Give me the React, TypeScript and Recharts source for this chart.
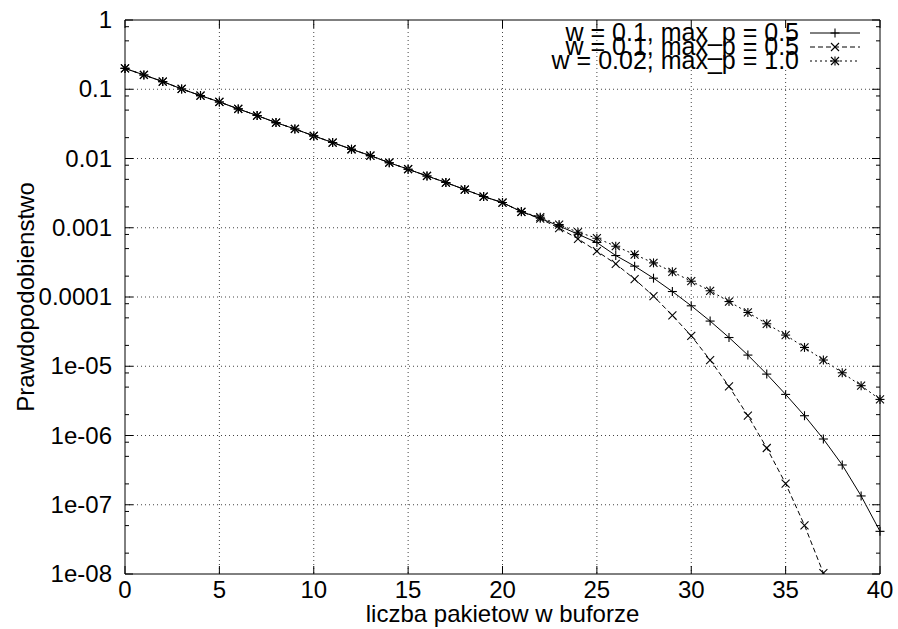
import React from "react";
import { LineChart, Line, XAxis, YAxis, Legend, ReferenceArea } from "recharts";

// liczba pakietow w buforze
const packets = [
  0, 1, 2, 3, 4, 5, 6, 7, 8, 9, 10, 11, 12, 13, 14, 15, 16, 17, 18, 19, 20,
  21, 22, 23, 24, 25, 26, 27, 28, 29, 30, 31, 32, 33, 34, 35, 36, 37, 38, 39, 40,
];

// first 21 points are shared by all three curves
const common = [
  0.2, 0.161, 0.129, 0.101, 0.081, 0.0656, 0.052, 0.0417, 0.033, 0.0267, 0.0212,
  0.017, 0.0136, 0.011, 0.0087, 0.007, 0.0056, 0.0045, 0.00356, 0.00282, 0.00231,
];

const seriesA = [
  ...common,
  0.00171, 0.00137, 0.00106, 0.000807, 0.000611, 0.000397, 0.000279, 0.000187,
  0.00012, 7.46e-5, 4.49e-5, 2.6e-5, 1.45e-5, 7.7e-6, 3.92e-6, 1.93e-6, 8.9e-7,
  3.75e-7, 1.34e-7, 4.13e-8,
];

const seriesB = [
  ...common,
  0.0017, 0.00135, 0.000987, 0.000692, 0.000459, 0.000301, 0.000181, 0.000103,
  5.42e-5, 2.75e-5, 1.23e-5, 5.12e-6, 1.93e-6, 6.6e-7, 2.02e-7, 5.05e-8, 1.03e-8,
  null, null, null,
];

const seriesC = [
  ...common,
  0.0017, 0.00142, 0.00111, 0.000863, 0.000706, 0.000541, 0.00041, 0.000311,
  0.000231, 0.000169, 0.000123, 8.6e-5, 5.98e-5, 4.1e-5, 2.82e-5, 1.87e-5,
  1.23e-5, 8.05e-6, 5.24e-6, 3.32e-6,
];

const seriesNames = [
  "w = 0.1, max_p = 0.5",
  "w = 0.1, max_p = 0.5",
  "w = 0.02, max_p = 1.0",
];

const xTicks = [0, 5, 10, 15, 20, 25, 30, 35, 40];
const yMajor = [1, 0.1, 0.01, 0.001, 0.0001, 1e-5, 1e-6, 1e-7, 1e-8];
const yLabels = ["1", "0.1", "0.01", "0.001", "0.0001", "1e-05", "1e-06", "1e-07", "1e-08"];
const minorFactors = [0.8, 0.5, 0.2];

const yMinor = yMajor.slice(0, -1).flatMap((m) => minorFactors.map((f) => m * f));
const yTicks = [...yMajor, ...yMinor];

const data = packets.map((n, i) => ({
  n,
  a: seriesA[i],
  b: seriesB[i],
  c: seriesC[i],
}));

const W = 898;
const H = 629;
const PLOT = { left: 125, right: 880, top: 20, bottom: 574 };
const FONT = "'Liberation Sans', Arial, Helvetica, sans-serif";
const FS = 24;
const GRID_DASH = "1 3";

type MarkerKind = "plus" | "cross" | "star";

function Marker({ cx, cy, kind }: { cx: number; cy: number; kind: MarkerKind }) {
  const p = 4.5;
  const c = 4;
  return (
    <g stroke="#000" strokeWidth={1.1} fill="none">
      {(kind === "plus" || kind === "star") && (
        <>
          <line x1={cx - p} x2={cx + p} y1={cy} y2={cy} />
          <line x1={cx} x2={cx} y1={cy - p} y2={cy + p} />
        </>
      )}
      {(kind === "cross" || kind === "star") && (
        <>
          <line x1={cx - c} x2={cx + c} y1={cy - c} y2={cy + c} />
          <line x1={cx - c} x2={cx + c} y1={cy + c} y2={cy - c} />
        </>
      )}
    </g>
  );
}

const makeDot = (kind: MarkerKind) => (props: any) => {
  const { cx, cy, value, index } = props;
  if (value == null || cx == null || cy == null) return <g key={`e-${kind}-${index}`} />;
  return (
    <g key={`d-${kind}-${index}`}>
      <Marker cx={cx} cy={cy} kind={kind} />
    </g>
  );
};

function labelFor(v: number) {
  const i = yMajor.findIndex((m) => Math.abs(v - m) / m < 1e-6);
  return i >= 0 ? yLabels[i] : undefined;
}

function YTick(props: any) {
  const { payload } = props;
  const cy = payload.coordinate ?? props.y;
  const label = labelFor(payload.value);
  const major = label !== undefined;
  const len = major ? 8 : 4;
  const inside = cy > PLOT.top + 1 && cy < PLOT.bottom - 1;
  return (
    <g>
      {major && inside && (
        <line x1={PLOT.left} x2={PLOT.right} y1={cy} y2={cy} stroke="#444" strokeDasharray={GRID_DASH} />
      )}
      <line x1={PLOT.left} x2={PLOT.left + len} y1={cy} y2={cy} stroke="#000" />
      <line x1={PLOT.right} x2={PLOT.right - len} y1={cy} y2={cy} stroke="#000" />
      {major && (
        <text x={PLOT.left - 13} y={cy + 8} textAnchor="end" fontFamily={FONT} fontSize={FS} fill="#000">
          {label}
        </text>
      )}
    </g>
  );
}

function XTick(props: any) {
  const { payload } = props;
  const cx = payload.coordinate ?? props.x;
  const inside = cx > PLOT.left + 1 && cx < PLOT.right - 1;
  // gnuplot keeps the key box clear of grid lines
  const gridTop = cx > 600 ? 70 : PLOT.top;
  return (
    <g>
      {inside && (
        <line x1={cx} x2={cx} y1={gridTop} y2={PLOT.bottom} stroke="#444" strokeDasharray={GRID_DASH} />
      )}
      <line x1={cx} x2={cx} y1={PLOT.bottom} y2={PLOT.bottom - 8} stroke="#000" />
      <line x1={cx} x2={cx} y1={PLOT.top} y2={PLOT.top + 8} stroke="#000" />
      <text x={cx} y={598} textAnchor="middle" fontFamily={FONT} fontSize={FS} fill="#000">
        {payload.value}
      </text>
    </g>
  );
}

const styles: { dash?: string; kind: MarkerKind }[] = [
  { kind: "plus" },
  { dash: "5 3", kind: "cross" },
  { dash: "2 3", kind: "star" },
];

function KeyBox() {
  const rows = [33, 47, 61];
  return (
    <svg width={W} height={90} style={{ display: "block", pointerEvents: "none" }}>
      {seriesNames.map((name, i) => (
        <g key={i}>
          <text x={799} y={rows[i] + 8} textAnchor="end" fontFamily={FONT} fontSize={25} fill="#000">
            {name}
          </text>
          <line x1={810} x2={860} y1={rows[i]} y2={rows[i]} stroke="#000" strokeDasharray={styles[i].dash} />
          <Marker cx={835} cy={rows[i]} kind={styles[i].kind} />
        </g>
      ))}
    </svg>
  );
}

export default function App() {
  return (
    <div style={{ position: "absolute", left: 0, top: 0, background: "#fff" }}>
      <LineChart
        width={W}
        height={H}
        data={data}
        margin={{ top: PLOT.top, right: W - PLOT.right, bottom: 0, left: 15 }}
      >
        <XAxis
          dataKey="n"
          type="number"
          domain={[0, 40]}
          ticks={xTicks}
          interval={0}
          axisLine={false}
          tickLine={false}
          height={H - PLOT.bottom}
          tick={<XTick />}
          label={(p: any) => {
            const vb = p.viewBox || {};
            const cx = (vb.x ?? PLOT.left) + (vb.width ?? PLOT.right - PLOT.left) / 2;
            return (
              <text x={cx} y={622} textAnchor="middle" fontFamily={FONT} fontSize={FS} fill="#000">
                liczba pakietow w buforze
              </text>
            );
          }}
        />
        <YAxis
          type="number"
          scale="log"
          domain={[1e-8, 1]}
          ticks={yTicks}
          interval={0}
          allowDataOverflow
          axisLine={false}
          tickLine={false}
          width={PLOT.left - 15}
          tick={<YTick />}
          label={() => (
            <text
              x={34}
              y={297}
              transform="rotate(-90 34 297)"
              textAnchor="middle"
              fontFamily={FONT}
              fontSize={FS}
              fill="#000"
            >
              Prawdopodobienstwo
            </text>
          )}
        />
        <ReferenceArea x1={0} x2={40} y1={1e-8} y2={1} fill="none" stroke="#000" strokeWidth={1} ifOverflow="visible" />
        <Line
          dataKey="a"
          stroke="#000"
          strokeWidth={1}
          dot={makeDot("plus")}
          activeDot={false}
          isAnimationActive={false}
        />
        <Line
          dataKey="b"
          stroke="#000"
          strokeWidth={1}
          strokeDasharray={styles[1].dash}
          dot={makeDot("cross")}
          activeDot={false}
          isAnimationActive={false}
        />
        <Line
          dataKey="c"
          stroke="#000"
          strokeWidth={1}
          strokeDasharray={styles[2].dash}
          dot={makeDot("star")}
          activeDot={false}
          isAnimationActive={false}
        />
        <Legend
          layout="horizontal"
          verticalAlign="middle"
          align="center"
          wrapperStyle={{ position: "absolute", left: 0, top: 0, width: W, height: 90 }}
          content={() => <KeyBox />}
        />
      </LineChart>
    </div>
  );
}
